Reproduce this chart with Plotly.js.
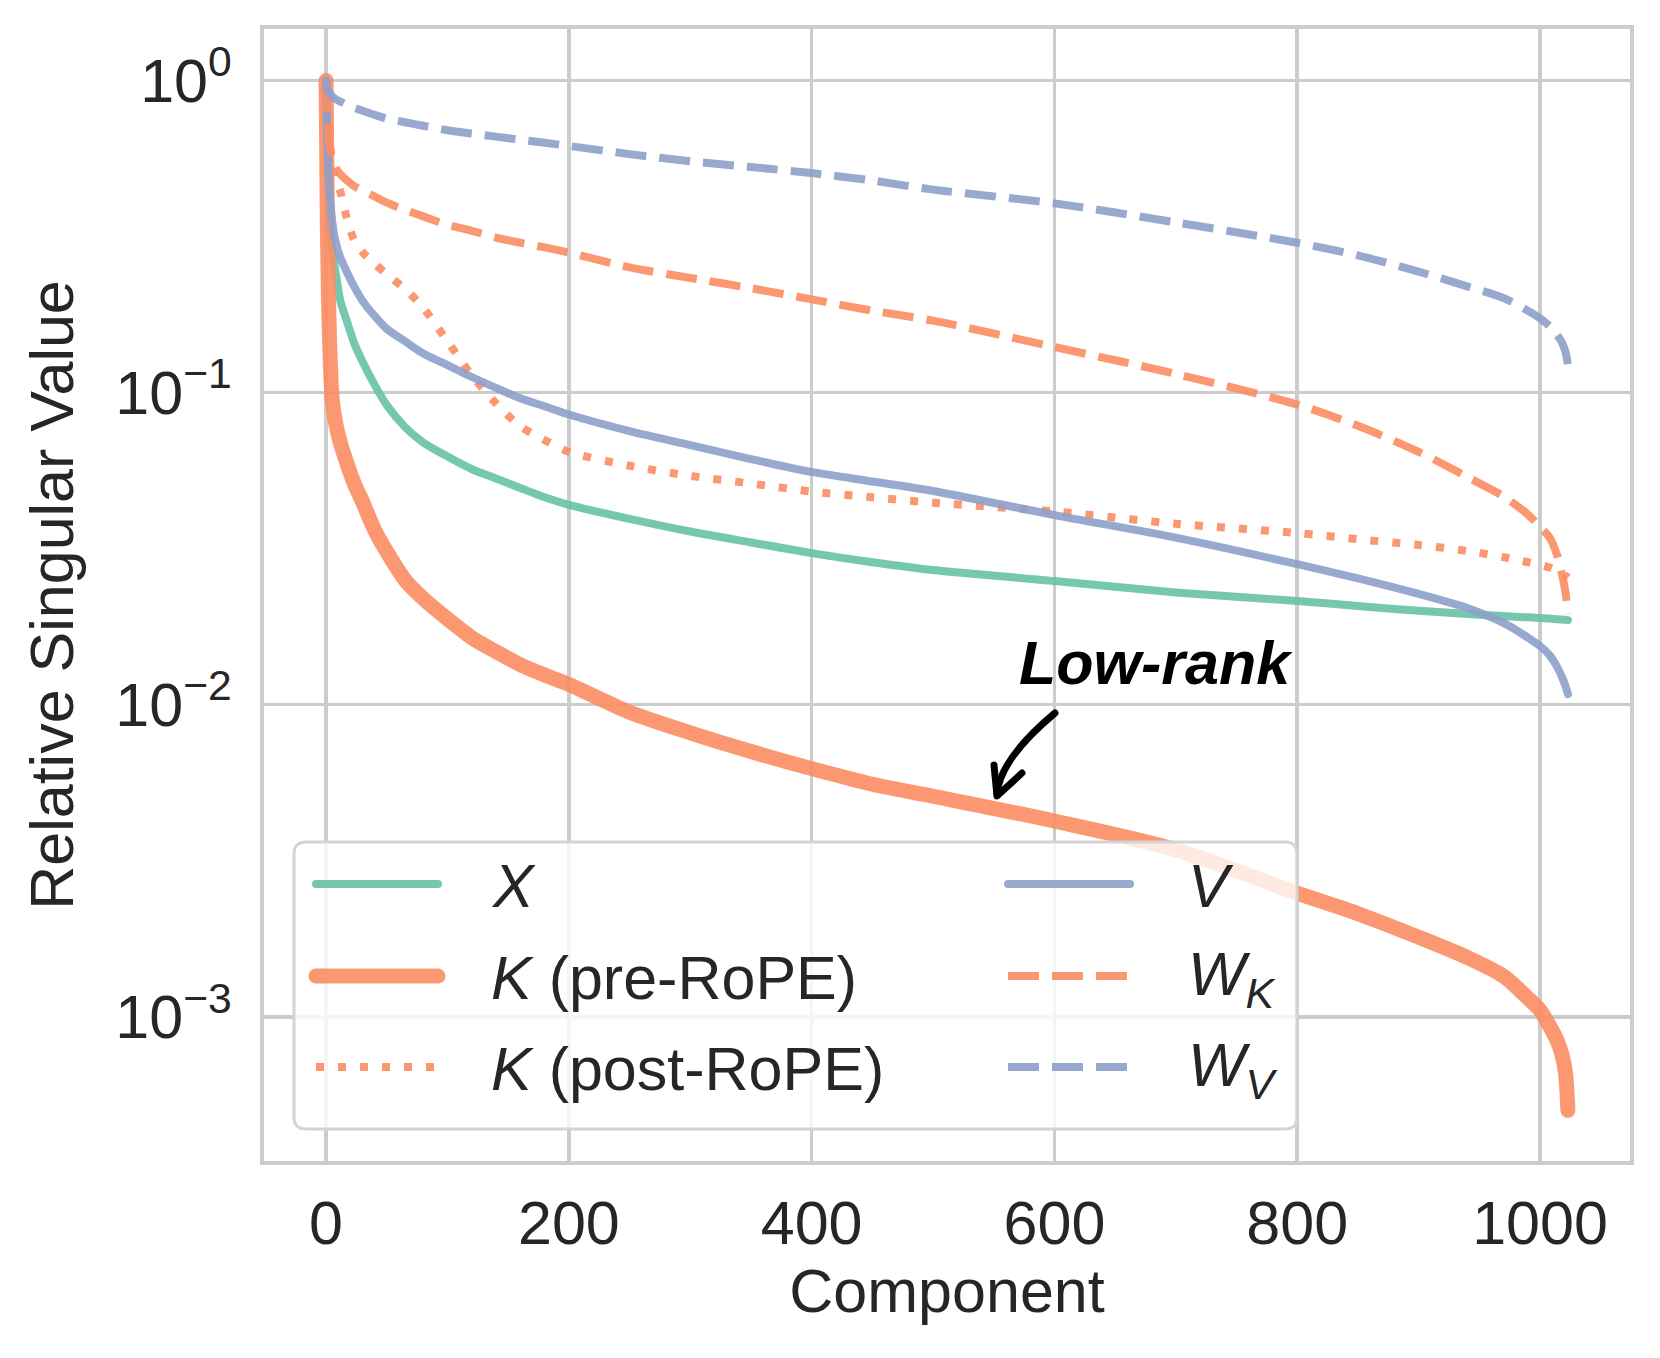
<!DOCTYPE html>
<html>
<head>
<meta charset="utf-8">
<script src="https://cdn.plot.ly/plotly-3.0.1.min.js"></script>
<style>
  body { margin: 0; background: #fff; }
  #chart { width: 1660px; height: 1358px; }
</style>
</head>
<body>
<div id="chart"></div>
<script>
const components = [0, 1, 2, 3, 5, 8, 12, 17, 23, 30, 40, 50, 65, 80, 100, 120, 140, 160, 180, 200,
  250, 300, 350, 400, 450, 500, 600, 700, 800, 850, 900, 940, 970, 990, 1000, 1008, 1014, 1018, 1021, 1023];

// relative singular values (normalised to the first one)
const xAct = [1, 0.603, 0.468, 0.380, 0.288, 0.240, 0.195, 0.170, 0.1445, 0.1259,
  0.1059, 0.0912, 0.0776, 0.0692, 0.0624, 0.0569, 0.0531, 0.0495, 0.0462, 0.0437,
  0.0394, 0.0359, 0.0331, 0.0306, 0.0286, 0.0270, 0.0249, 0.0229, 0.0215, 0.0207,
  0.0200, 0.01954, 0.01923, 0.01905, 0.01897, 0.01888, 0.01879, 0.01875, 0.01871, 0.01866];

const kPre = [1, 0.355, 0.1995, 0.1413, 0.0955, 0.0794, 0.0684, 0.0596, 0.0513, 0.0447,
  0.0363, 0.0309, 0.0251, 0.0219, 0.01884, 0.0164, 0.01479, 0.01343, 0.01245, 0.01162,
  0.00946, 0.00813, 0.00708, 0.00624, 0.00556, 0.00509, 0.00424, 0.00343, 0.00249, 0.00214,
  0.0018, 0.00155, 0.00135, 0.001148, 0.00105, 0.000933, 0.000841, 0.000759, 0.000661, 0.000501];

const kPost = [1, 0.794, 0.692, 0.631, 0.550, 0.479, 0.437, 0.363, 0.309, 0.282,
  0.259, 0.239, 0.215, 0.187, 0.146, 0.1135, 0.0923, 0.0780, 0.0705, 0.0646,
  0.0583, 0.0541, 0.0511, 0.0482, 0.0462, 0.0444, 0.0416, 0.0380, 0.0355, 0.0339,
  0.0325, 0.0311, 0.0297, 0.0286, 0.0281, 0.0275, 0.0269, 0.0264, 0.0259, 0.0255];

const vAct = [1, 0.631, 0.513, 0.437, 0.355, 0.302, 0.269, 0.244, 0.219, 0.197,
  0.176, 0.160, 0.146, 0.1334, 0.1225, 0.1122, 0.1035, 0.0959, 0.0904, 0.0851,
  0.0753, 0.0679, 0.0612, 0.0557, 0.0519, 0.0484, 0.0405, 0.0343, 0.0282, 0.0254,
  0.02265, 0.02042, 0.01828, 0.01641, 0.01542, 0.01439, 0.01324, 0.0123, 0.01148, 0.01081];

const wK = [1, 0.759, 0.661, 0.610, 0.562, 0.525, 0.499, 0.479, 0.459, 0.445,
  0.425, 0.406, 0.385, 0.367, 0.345, 0.330, 0.314, 0.302, 0.292, 0.281,
  0.252, 0.233, 0.216, 0.199, 0.183, 0.170, 0.140, 0.1148, 0.0916, 0.0783,
  0.0646, 0.0537, 0.0465, 0.0407, 0.0371, 0.0343, 0.0302, 0.0263, 0.0229, 0.0195];

const wV = [1, 0.944, 0.923, 0.908, 0.891, 0.871, 0.855, 0.836, 0.818, 0.80,
  0.776, 0.755, 0.735, 0.716, 0.693, 0.676, 0.661, 0.646, 0.632, 0.617,
  0.581, 0.551, 0.528, 0.505, 0.478, 0.447, 0.404, 0.351, 0.302, 0.275,
  0.244, 0.219, 0.201, 0.183, 0.173, 0.163, 0.153, 0.145, 0.135, 0.123];

const seriesNames = ["<i>X</i>", "<i>K</i> (pre-RoPE)", "<i>K</i> (post-RoPE)",
  "<i>V</i>", "<i>W</i><sub><i>K</i></sub>", "<i>W</i><sub><i>V</i></sub>"];
const seriesValues = [xAct, kPre, kPost, vAct, wK, wV];

const yTickVals = [0.001, 0.01, 0.1, 1];
const yTickText = ["10<sup>\u22123</sup>", "10<sup>\u22122</sup>", "10<sup>\u22121</sup>", "10<sup>0</sup>"];
const xTickVals = [0, 200, 400, 600, 800, 1000];

// styling (Set2 palette, seaborn whitegrid look)
const colors = ["#66c2a5", "#fc8d62", "#fc8d62", "#8da0cb", "#fc8d62", "#8da0cb"];
const widths = [8, 15, 8, 8, 8, 8];
const dashes = ["solid", "solid", "8px,14px", "solid", "31px,13px", "31px,13px"];

const FONT = "Liberation Sans, Arial, Helvetica, sans-serif";
const TXT = "#262626";
const GRID = "#cccccc";

// plot box in page pixels, used to place the hand-drawn legend and arrow
const PLOT = { l: 264, t: 29, w: 1366, h: 1132 };
const px = p => (p - PLOT.l) / PLOT.w;
const py = p => (PLOT.t + PLOT.h - p) / PLOT.h;

const traces = seriesValues.map(function(vals, i) {
  return {
    x: components,
    y: vals,
    type: "scatter",
    mode: "lines",
    name: seriesNames[i],
    opacity: 0.9,
    line: { color: colors[i], width: widths[i], dash: dashes[i], shape: "spline", smoothing: 0.8 },
    hoverinfo: "skip",
    showlegend: false
  };
});

// legend, drawn like matplotlib's: two columns, long handles
const shapes = [];
const annotations = [];
const box = { l: 294, r: 1297, t: 842, b: 1129, rad: 12 };
const rx = box.rad / PLOT.w, ry = box.rad / PLOT.h;
const bl = px(box.l), br = px(box.r), bt = py(box.t), bb = py(box.b);
shapes.push({
  type: "path", xref: "paper", yref: "paper", layer: "above",
  path: `M${bl + rx},${bt} L${br - rx},${bt} Q${br},${bt} ${br},${bt - ry} ` +
        `L${br},${bb + ry} Q${br},${bb} ${br - rx},${bb} L${bl + rx},${bb} ` +
        `Q${bl},${bb} ${bl},${bb + ry} L${bl},${bt - ry} Q${bl},${bt} ${bl + rx},${bt} Z`,
  fillcolor: "rgba(255,255,255,0.8)",
  line: { color: "#d4d4d4", width: 3 }
});

const rowY = [884, 976, 1067];
const handleX = [[316, 438], [1008, 1130]];
const labelX = [489, 1186];
seriesNames.forEach(function(name, i) {
  const col = i < 3 ? 0 : 1;
  const row = i % 3;
  shapes.push({
    type: "line", xref: "paper", yref: "paper", layer: "above",
    x0: px(handleX[col][0]), x1: px(handleX[col][1]),
    y0: py(rowY[row]), y1: py(rowY[row]),
    opacity: 0.9,
    line: { color: colors[i], width: widths[i], dash: dashes[i] }
  });
  annotations.push({
    xref: "paper", yref: "paper",
    x: px(labelX[col]), y: py(rowY[row] + 2),
    xanchor: "left", yanchor: "middle",
    text: name, showarrow: false,
    font: { family: FONT, size: 61, color: TXT }
  });
});

// "Low-rank" callout with a curved arrow
annotations.push({
  xref: "x", yref: "y",
  x: 684, y: Math.log10(0.0136),
  xanchor: "center", yanchor: "middle",
  text: "<b><i>Low-rank</i></b>", showarrow: false,
  font: { family: FONT, size: 61, color: "#000000" }
});
shapes.push({
  type: "path", xref: "paper", yref: "paper", layer: "above",
  path: `M${px(1055)},${py(713)} Q${px(1000)},${py(759)} ${px(997)},${py(794)}`,
  line: { color: "#000000", width: 7 }
});
shapes.push({
  type: "path", xref: "paper", yref: "paper", layer: "above",
  path: `M${px(994)},${py(765)} L${px(997)},${py(796)} L${px(1022)},${py(773)}`,
  line: { color: "#000000", width: 7 }
});

const layout = {
  width: 1660,
  height: 1358,
  margin: { l: PLOT.l, r: 1660 - PLOT.l - PLOT.w, t: PLOT.t, b: 1358 - PLOT.t - PLOT.h, pad: 0 },
  paper_bgcolor: "#ffffff",
  plot_bgcolor: "#ffffff",
  showlegend: false,
  font: { family: FONT, size: 61, color: TXT },
  xaxis: {
    range: [-51.15, 1074.15],
    tickmode: "array",
    tickvals: xTickVals,
    ticks: "",
    ticklabelstandoff: 6,
    tickfont: { family: FONT, size: 61, color: TXT },
    showgrid: true,
    gridcolor: GRID,
    gridwidth: 3.5,
    zeroline: false,
    showline: true,
    mirror: true,
    linecolor: GRID,
    linewidth: 4,
    title: { text: "Component", font: { family: FONT, size: 61, color: TXT }, standoff: 14 }
  },
  yaxis: {
    type: "log",
    range: [-3.462, 0.165],
    tickmode: "array",
    tickvals: yTickVals,
    ticktext: yTickText,
    ticks: "",
    ticklabelstandoff: 16,
    tickfont: { family: FONT, size: 61, color: TXT },
    showgrid: true,
    gridcolor: GRID,
    gridwidth: 3.5,
    zeroline: false,
    showline: true,
    mirror: true,
    linecolor: GRID,
    linewidth: 4,
    title: { text: "Relative Singular Value", font: { family: FONT, size: 61, color: TXT }, standoff: 23 }
  },
  shapes: shapes,
  annotations: annotations
};

Plotly.newPlot("chart", traces, layout, { displayModeBar: false, staticPlot: true }).then(function(gd) {
  // round caps on the solid curves, like the original figure
  gd.querySelectorAll(".scatterlayer .trace").forEach(function(tr, i) {
    if (dashes[i] === "solid") {
      tr.querySelectorAll("path.js-line").forEach(function(p) { p.style.strokeLinecap = "round"; });
    }
  });
  gd.querySelectorAll(".shapelayer path").forEach(function(p) {
    if (!p.style.strokeDasharray || p.style.strokeDasharray === "none") {
      p.style.strokeLinecap = "round";
      p.style.strokeLinejoin = "round";
    }
  });
});
</script>
</body>
</html>
